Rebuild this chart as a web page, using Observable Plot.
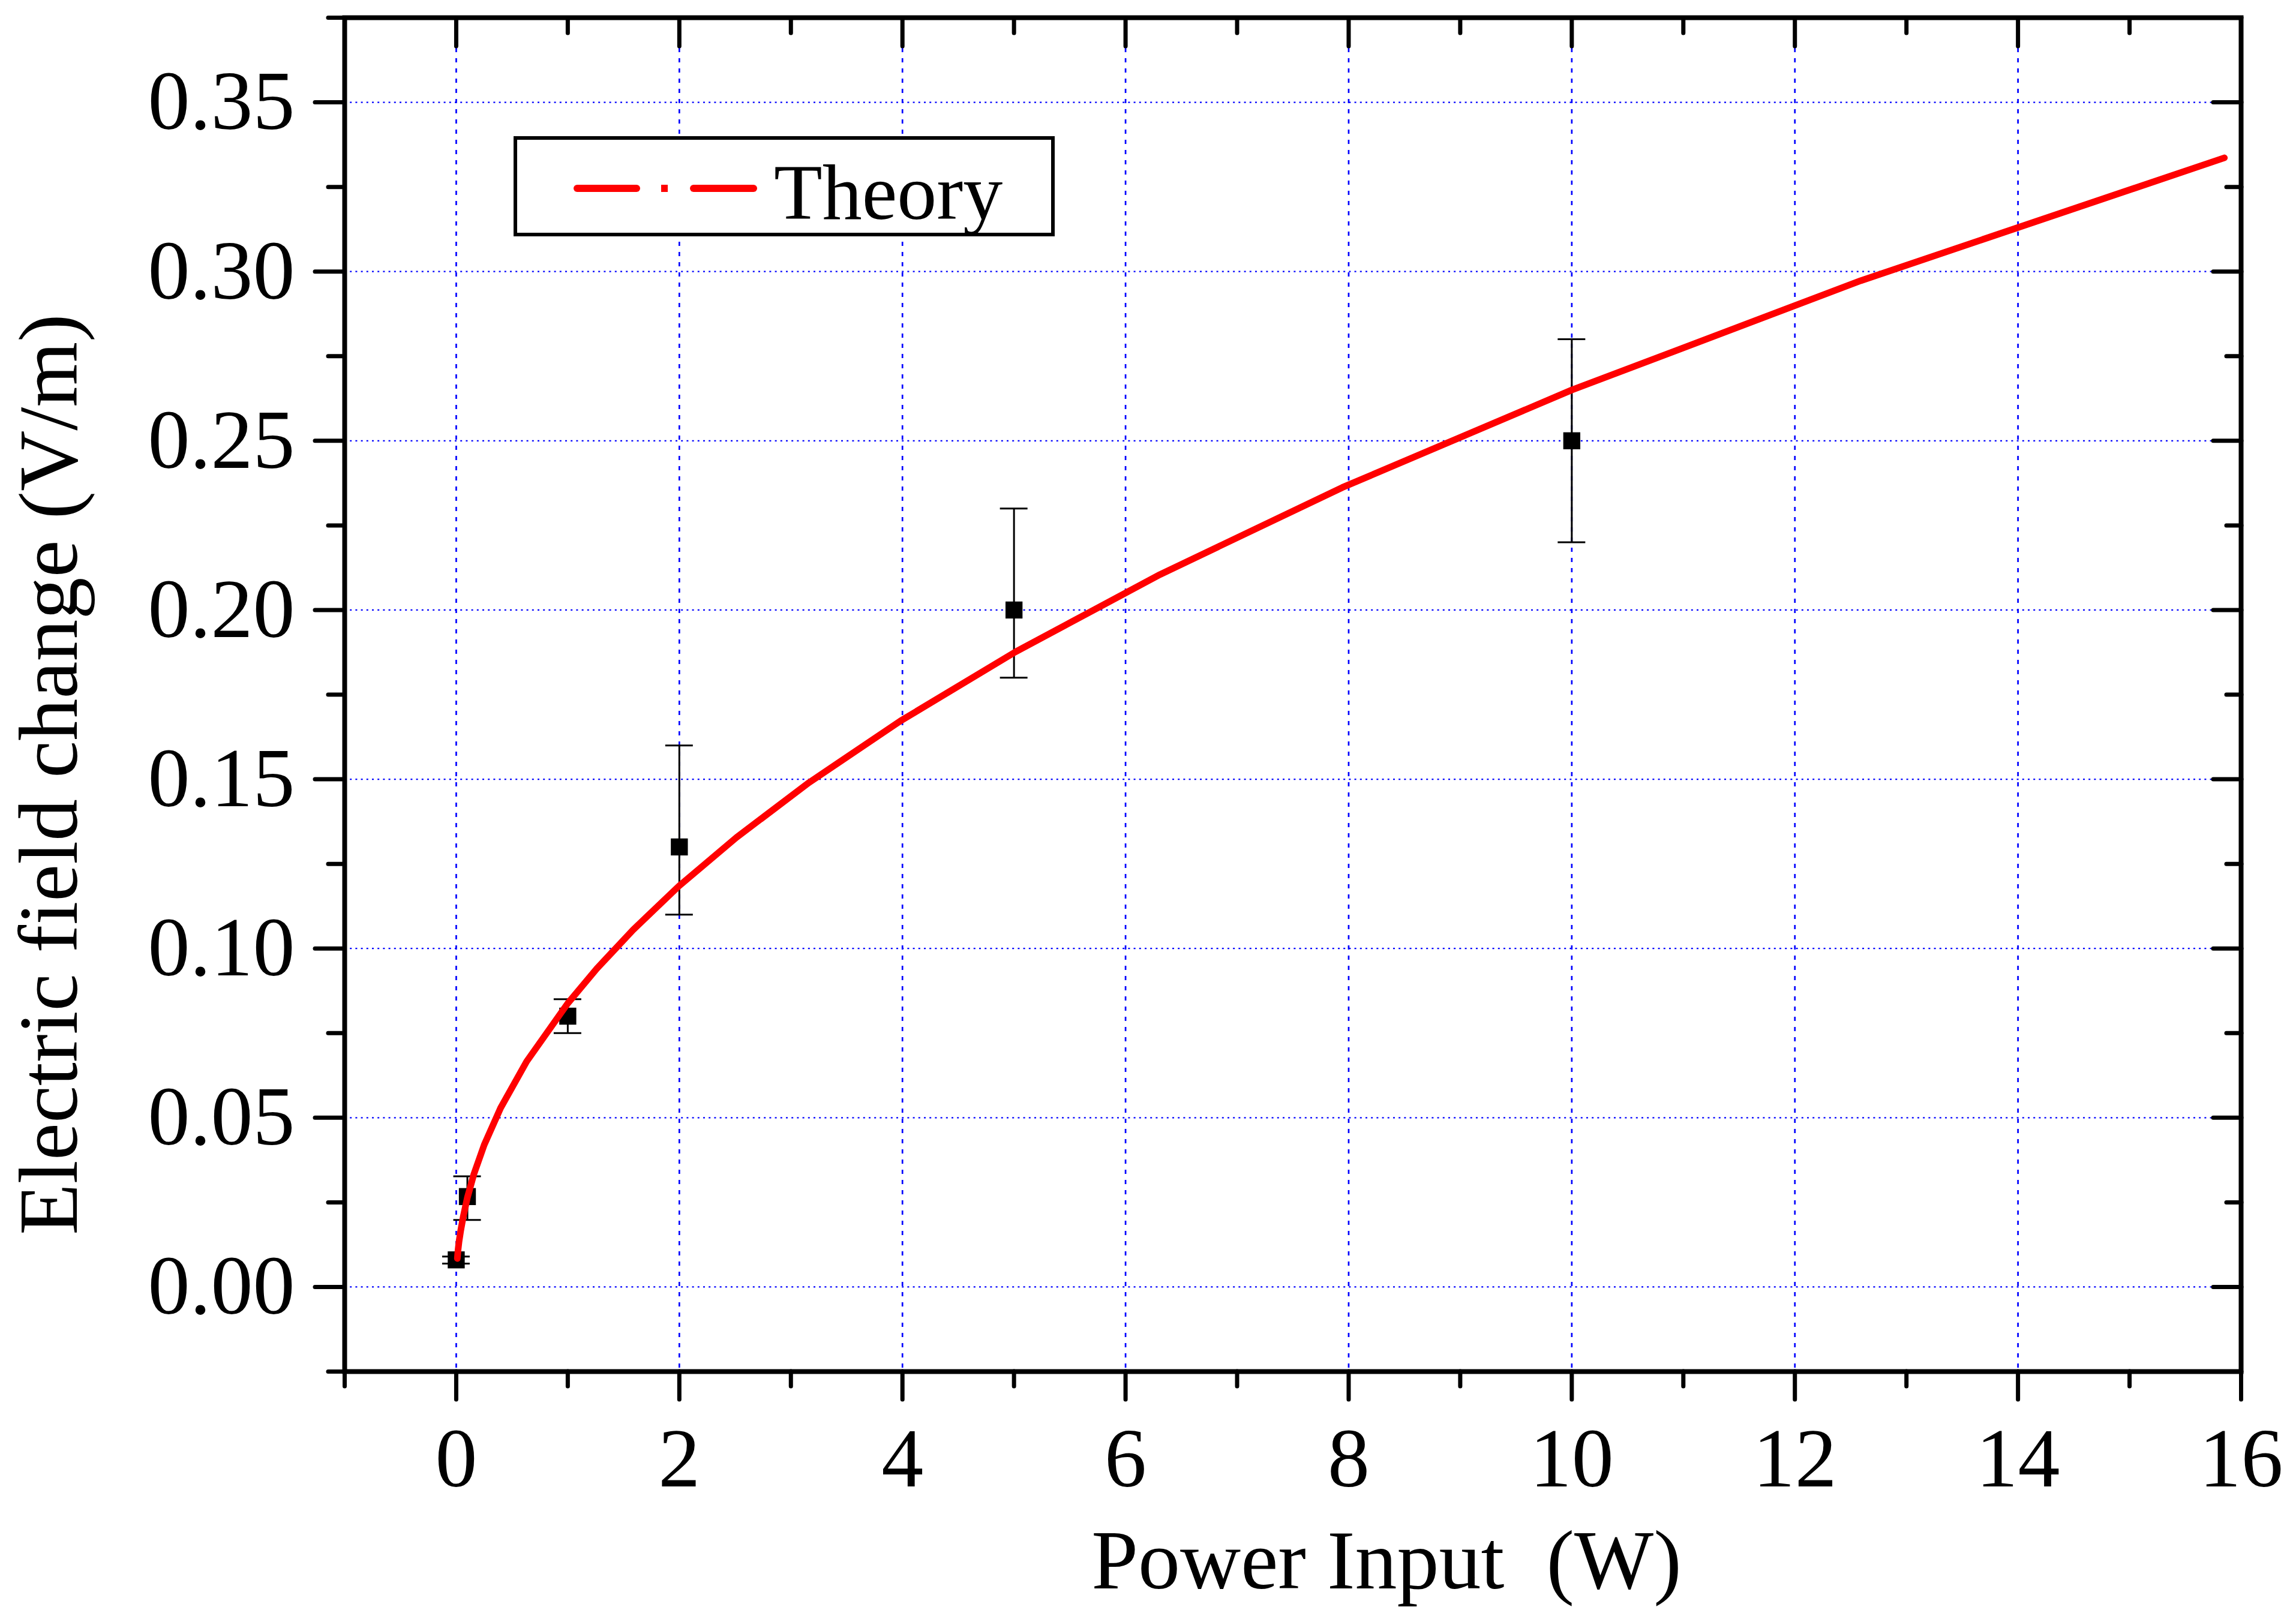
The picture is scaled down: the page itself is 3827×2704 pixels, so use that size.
<!DOCTYPE html>
<html><head><meta charset="utf-8">
<script src="https://cdn.jsdelivr.net/npm/d3@7"></script>
<script src="https://cdn.jsdelivr.net/npm/@observablehq/plot@0.6"></script>
<style>
html,body{margin:0;padding:0;background:#fff;}
#wrap{position:relative;width:3827px;height:2704px;font-family:"Liberation Serif","Times New Roman",serif;}
#legend{position:absolute;left:856px;top:227px;width:902px;height:167px;box-sizing:border-box;border:6px solid #000;background:#fff;}
#legend svg{position:absolute;left:0;top:0;overflow:visible;}
</style></head><body>
<div id="wrap"><div id="chart"></div>
<div id="legend"><svg width="890" height="155">
<line x1="100" x2="199" y1="81" y2="81" stroke="#ff0000" stroke-width="12" stroke-linecap="round"/>
<rect x="240" y="75" width="11" height="12" fill="#ff0000"/>
<line x1="294" x2="394" y1="81" y2="81" stroke="#ff0000" stroke-width="12" stroke-linecap="round"/>
<text x="428" y="132" font-family="Liberation Serif, Times New Roman, serif" font-size="132" fill="#000">Theory</text>
</svg></div>
</div>
<script>
// Measured data (power input in W, field change in V/m)
const powerW   = [0, 0.1, 1, 2, 5, 10];
const fieldVm  = [0.008, 0.0267, 0.080, 0.130, 0.200, 0.250];
const errLow   = [0.0069, 0.0198, 0.075, 0.110, 0.180, 0.220];
const errHigh  = [0.0090, 0.0327, 0.085, 0.160, 0.230, 0.280];

// Theory curve
const theoryP = [0.01, 0.016, 0.025, 0.04, 0.063, 0.1, 0.158, 0.251, 0.398, 0.631, 1.0, 1.259, 1.585, 1.995, 2.512, 3.162, 3.981, 5.012, 6.31, 7.943, 10, 12.59, 15.85];
const theoryE = [0.0084, 0.0108, 0.0134, 0.0166, 0.0208, 0.0264, 0.0333, 0.0420, 0.0529, 0.0666, 0.0838, 0.0940, 0.1055, 0.1184, 0.1328, 0.1490, 0.1672, 0.1876, 0.2105, 0.2362, 0.2650, 0.2973, 0.3336];

// Ticks
const xMajorTicks = [0, 2, 4, 6, 8, 10, 12, 14, 16];
const xMinorTicks = [-1, 1, 3, 5, 7, 9, 11, 13, 15];
const xGridLines  = [0, 2, 4, 6, 8, 10, 12, 14];
const yMajorTicks = [0, 0.05, 0.10, 0.15, 0.20, 0.25, 0.30, 0.35];
const yMinorTicks = [-0.025, 0.025, 0.075, 0.125, 0.175, 0.225, 0.275, 0.325, 0.375];

const xLabel = "Power Input\u00a0 (W)";
const yLabel = "Electric field change (V/m)";

const points = powerW.map((p, i) => ({p, e: fieldVm[i], lo: errLow[i], hi: errHigh[i]}));
const theory = theoryP.map((p, i) => ({p, e: theoryE[i]}));

const FONT = "'Liberation Serif','Times New Roman',serif";
const TICK = 47, MINOR = 25, TW = 7;

const chart = Plot.plot({
  width: 3827, height: 2704,
  marginLeft: 574, marginRight: 92, marginTop: 29, marginBottom: 418,
  style: {fontFamily: FONT, fontSize: "140px", background: "#fff", color: "#000"},
  x: {domain: [-1, 16]},
  y: {domain: [-0.025, 0.375]},
  marks: [
    Plot.ruleX(xGridLines, {stroke: "#0000ff", strokeWidth: 2.7, strokeDasharray: "7,10"}),
    Plot.ruleY(yMajorTicks, {stroke: "#0000ff", strokeWidth: 2.2, strokeDasharray: "3,6.2"}),
    Plot.ruleX(points, {x: "p", y1: "lo", y2: "hi", stroke: "#000", strokeWidth: 3}),
    Plot.ruleY(points, {y: "hi", x1: "p", x2: "p", insetLeft: -23, insetRight: -23, stroke: "#000", strokeWidth: 3}),
    Plot.ruleY(points, {y: "lo", x1: "p", x2: "p", insetLeft: -23, insetRight: -23, stroke: "#000", strokeWidth: 3}),
    Plot.dot(points, {x: "p", y: "e", symbol: "square", r: 16, fill: "#000"}),
    Plot.line(theory, {x: "p", y: "e", stroke: "#ff0000", strokeWidth: 11, strokeLinecap: "round", strokeLinejoin: "round"}),
    Plot.frame({stroke: "#000", strokeWidth: 8}),
    // bottom axis
    Plot.axisX(xMajorTicks, {anchor: "bottom", tickSize: TICK, tickPadding: 45, strokeWidth: TW, strokeLinecap: "round", fontSize: 140, fontFamily: FONT, tickFormat: d => String(d), label: null}),
    Plot.axisX(xMinorTicks, {anchor: "bottom", tickSize: MINOR, strokeWidth: TW, strokeLinecap: "round", fill: "none", label: null}),
    // top axis (inward)
    Plot.axisX(xMajorTicks, {anchor: "top", tickSize: TICK, dy: TICK, strokeWidth: TW, strokeLinecap: "round", fill: "none", label: null}),
    Plot.axisX(xMinorTicks, {anchor: "top", tickSize: MINOR, dy: MINOR, strokeWidth: TW, strokeLinecap: "round", fill: "none", label: null}),
    // left axis
    Plot.axisY(yMajorTicks, {anchor: "left", tickSize: TICK + 2, tickPadding: 34, strokeWidth: TW, strokeLinecap: "round", fontSize: 140, fontFamily: FONT, tickFormat: d3.format(".2f"), label: null}),
    Plot.axisY(yMinorTicks, {anchor: "left", tickSize: MINOR + 2, strokeWidth: TW, strokeLinecap: "round", fill: "none", label: null}),
    // right axis (inward)
    Plot.axisY(yMajorTicks, {anchor: "right", tickSize: TICK, dx: -TICK, strokeWidth: TW, strokeLinecap: "round", fill: "none", label: null}),
    Plot.axisY(yMinorTicks, {anchor: "right", tickSize: MINOR, dx: -MINOR, strokeWidth: TW, strokeLinecap: "round", fill: "none", label: null}),
    // axis titles
    Plot.text([xLabel], {text: d => d, frameAnchor: "bottom", dx: 156, dy: 317, textAnchor: "middle", lineAnchor: "middle", fontSize: 140, fontFamily: FONT, fill: "#000"}),
    Plot.text([yLabel], {text: d => d, frameAnchor: "left", rotate: -90, dx: -491, dy: 133, textAnchor: "middle", lineAnchor: "middle", fontSize: 140, fontFamily: FONT, fill: "#000"})
  ]
});
document.getElementById("chart").appendChild(chart);
</script>
</body></html>
